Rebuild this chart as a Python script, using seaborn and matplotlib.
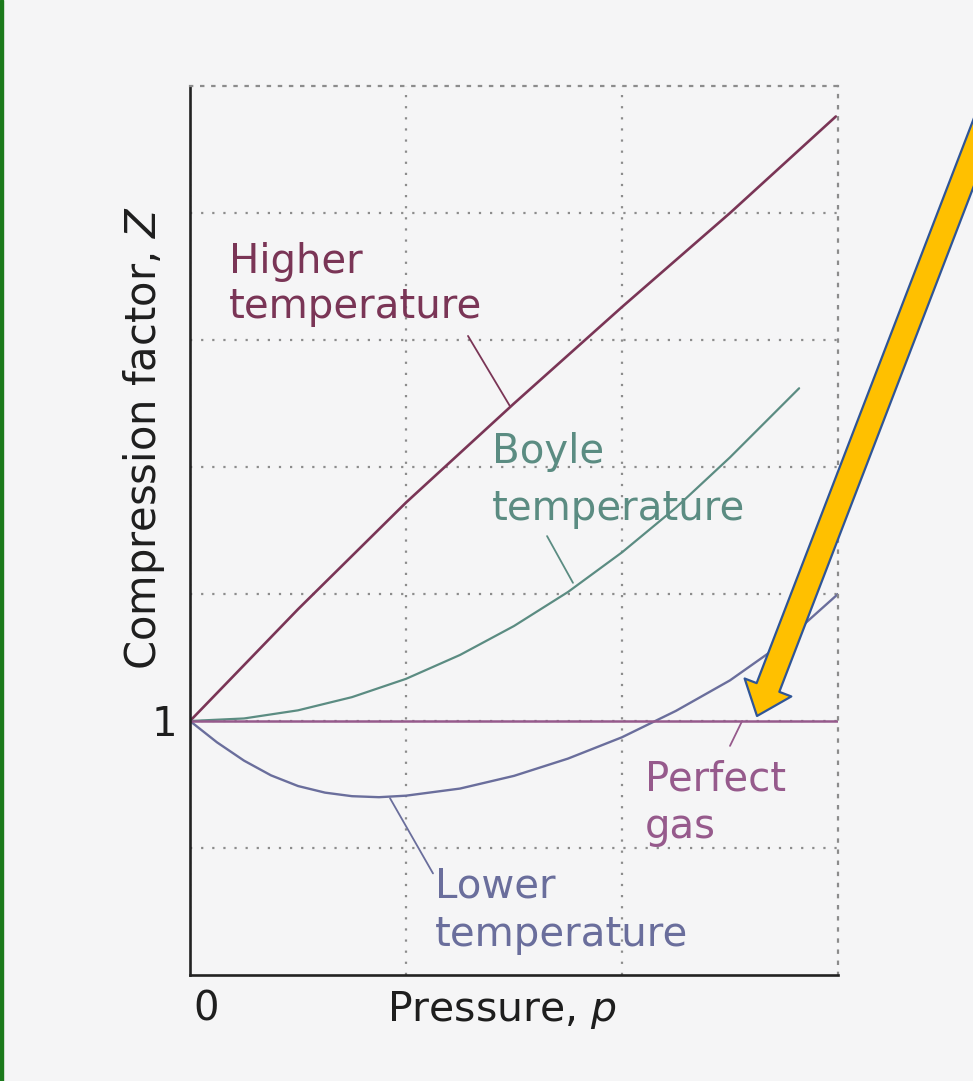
import matplotlib
matplotlib.use('Agg')
import matplotlib.pyplot as plt
import matplotlib.transforms as mtransforms
from matplotlib.patches import Rectangle
import seaborn as sns

# ---- data ----
pressure_higher = [0.0, 0.5, 1.0, 1.5, 2.0, 2.5, 2.99]
z_higher = [1.0, 1.22, 1.43, 1.625, 1.815, 2.0, 2.19]

pressure_boyle = [0.0, 0.25, 0.5, 0.75, 1.0, 1.25, 1.5, 1.75, 2.0, 2.25, 2.5, 2.82]
z_boyle = [1.0, 1.005, 1.021, 1.047, 1.083, 1.130, 1.187, 1.254, 1.332, 1.420, 1.519, 1.655]

pressure_lower = [0.0, 0.125, 0.25, 0.375, 0.5, 0.625, 0.75, 0.875, 1.0, 1.25,
                  1.5, 1.75, 2.0, 2.25, 2.5, 2.75, 3.0]
z_lower = [1.0, 0.958, 0.922, 0.893, 0.872, 0.859, 0.852, 0.850, 0.853, 0.867,
           0.892, 0.926, 0.968, 1.020, 1.080, 1.155, 1.25]

pressure_perfect = [0.0, 3.0]
z_perfect = [1.0, 1.0]

x_ticks = [0, 1, 2]
x_tick_labels = ['0', '', '']
y_ticks = [0.75, 1.0, 1.25, 1.5, 1.75, 2.0]
y_tick_labels = ['', '1', '', '', '', '']

# ---- style ----
sns.set_theme(style='white')
plt.rcParams['font.family'] = ['DejaVu Sans']
plt.rcParams['mathtext.fontset'] = 'dejavusans'

BG = '#f5f5f6'
C_HIGH = '#7a3556'
C_BOYLE = '#5b8c82'
C_LOWER = '#6a6e9c'
C_PERFECT = '#965a8c'
GRID = '#8c8c8c'
INK = '#1e1e1e'

fig = plt.figure(figsize=(9.73, 10.81), dpi=100, facecolor=BG)
ax = fig.add_axes([190 / 973, 106 / 1081, 648 / 973, 889 / 1081])
ax.set_facecolor(BG)

sns.lineplot(x=pressure_higher, y=z_higher, color=C_HIGH, linewidth=1.9,
             sort=False, estimator=None, ax=ax)
sns.lineplot(x=pressure_boyle, y=z_boyle, color=C_BOYLE, linewidth=1.6,
             sort=False, estimator=None, ax=ax)
sns.lineplot(x=pressure_lower, y=z_lower, color=C_LOWER, linewidth=1.7,
             sort=False, estimator=None, ax=ax)
sns.lineplot(x=pressure_perfect, y=z_perfect, color=C_PERFECT, linewidth=1.8,
             sort=False, estimator=None, ax=ax)
for ln in ax.get_lines():
    ln.set_solid_joinstyle('round')

ax.set_xlim(0, 3)
ax.set_ylim(0.5, 2.25)
ax.set_xticks(x_ticks)
ax.set_xticklabels(x_tick_labels)
ax.set_yticks(y_ticks)
ax.set_yticklabels(y_tick_labels)
ax.tick_params(axis='both', length=0, labelsize=29, labelcolor=INK)
ax.tick_params(axis='x', pad=10.5)
ax.tick_params(axis='y', pad=9.4)
offset = mtransforms.ScaledTranslation(0.03, 0, fig.dpi_scale_trans)
for lbl in ax.get_xticklabels():
    lbl.set_ha('left')
    lbl.set_transform(lbl.get_transform() + offset)

ax.grid(True, color=GRID, linestyle=(0, (1, 4)), linewidth=1.6)
ax.set_axisbelow(True)

for side in ['left', 'bottom']:
    ax.spines[side].set_color('#222222')
    ax.spines[side].set_linewidth(1.9)
for side in ['top', 'right']:
    ax.spines[side].set_visible(True)
    ax.spines[side].set_color(GRID)
    ax.spines[side].set_linestyle((0, (1, 4)))
    ax.spines[side].set_linewidth(1.6)

ax.set_xlabel('Pressure, $p$', fontsize=29.5, color=INK)
ax.xaxis.set_label_coords(0.482, -0.0157)
ax.set_ylabel('Compression factor, $Z$', fontsize=30, color=INK)
ax.yaxis.set_label_coords(-0.0355, 0.6035)

# ---- curve labels (anchored at baseline of last line) ----
LABEL_FS = 29
ax.text(0.18, 1.793, 'Higher\ntemperature', fontsize=LABEL_FS, color=C_HIGH,
        ha='left', va='baseline', linespacing=1.16)
ax.text(1.398, 1.396, 'Boyle\ntemperature', fontsize=LABEL_FS, color=C_BOYLE,
        ha='left', va='baseline', linespacing=1.55)
ax.text(2.106, 0.770, 'Perfect\ngas', fontsize=LABEL_FS, color=C_PERFECT,
        ha='left', va='baseline', linespacing=1.23)
ax.text(1.134, 0.557, 'Lower\ntemperature', fontsize=LABEL_FS, color=C_LOWER,
        ha='left', va='baseline', linespacing=1.26)

# leader lines
for start, end, col in [((1.287, 1.758), (1.481, 1.620), C_HIGH),
                        ((1.653, 1.364), (1.773, 1.272), C_BOYLE),
                        ((2.50, 0.951), (2.556, 1.0), C_PERFECT),
                        ((0.926, 0.848), (1.125, 0.700), C_LOWER)]:
    ax.annotate('', xy=end, xytext=start,
                arrowprops=dict(arrowstyle='-', color=col, lw=1.3,
                                shrinkA=0, shrinkB=0))

# ---- big yellow arrow ----
ax.annotate('', xy=(757, 1081 - 716), xycoords='figure pixels',
            xytext=(1017, 1081 - 40), textcoords='figure pixels',
            arrowprops=dict(arrowstyle='simple,head_length=2.2,head_width=3.6,tail_width=1.75',
                            fc='#ffc000', ec='#2f5597', lw=1.6,
                            shrinkA=0, shrinkB=0, mutation_scale=10),
            annotation_clip=False)

# green border on the left edge
fig.add_artist(Rectangle((0, 0), 2.5 / 973, 1, transform=fig.transFigure,
                         color='#1b7a1b', zorder=10))

fig.savefig('out.png', dpi=100, facecolor=BG)
